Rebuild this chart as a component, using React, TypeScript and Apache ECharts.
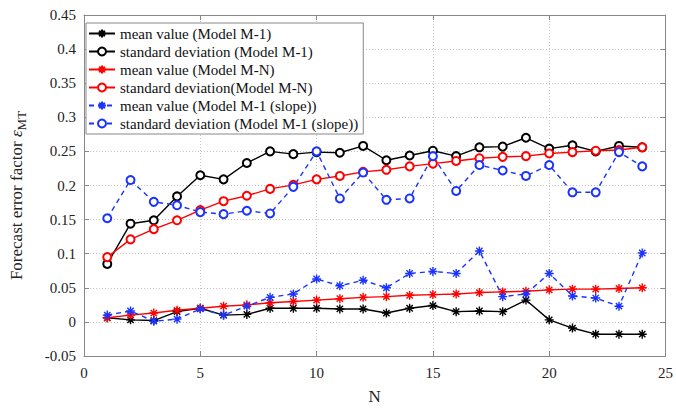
import React, { useEffect, useRef } from "react";
import * as echarts from "echarts";

// Number of measurement points N
const nValues = [1, 2, 3, 4, 5, 6, 7, 8, 9, 10, 11, 12, 13, 14, 15, 16, 17, 18, 19, 20, 21, 22, 23, 24];

// Model M-1
const meanM1 = [0.006, 0.003, 0.002, 0.015, 0.020, 0.010, 0.011, 0.020, 0.020, 0.020, 0.019, 0.019, 0.013, 0.020, 0.024, 0.015, 0.016, 0.015, 0.032, 0.003, -0.009, -0.018, -0.018, -0.018];
const stdM1 = [0.085, 0.144, 0.149, 0.184, 0.215, 0.209, 0.233, 0.250, 0.246, 0.249, 0.248, 0.258, 0.237, 0.244, 0.251, 0.243, 0.256, 0.257, 0.270, 0.254, 0.259, 0.250, 0.258, 0.256];

// Model M-N
const meanMN = [0.006, 0.010, 0.013, 0.017, 0.020, 0.023, 0.025, 0.028, 0.030, 0.032, 0.034, 0.036, 0.037, 0.039, 0.040, 0.041, 0.043, 0.044, 0.045, 0.047, 0.048, 0.048, 0.049, 0.050];
const stdMN = [0.095, 0.121, 0.136, 0.149, 0.164, 0.177, 0.185, 0.195, 0.201, 0.209, 0.214, 0.220, 0.223, 0.228, 0.232, 0.236, 0.240, 0.242, 0.243, 0.247, 0.249, 0.251, 0.252, 0.256];

// Model M-1 (slope)
const meanSlope = [0.010, 0.016, 0.001, 0.004, 0.019, 0.010, 0.023, 0.036, 0.041, 0.063, 0.053, 0.061, 0.050, 0.071, 0.074, 0.071, 0.104, 0.037, 0.041, 0.071, 0.038, 0.035, 0.023, 0.101];
const stdSlope = [0.152, 0.208, 0.176, 0.171, 0.161, 0.158, 0.163, 0.159, 0.198, 0.250, 0.181, 0.219, 0.179, 0.181, 0.243, 0.192, 0.230, 0.222, 0.214, 0.230, 0.190, 0.190, 0.249, 0.228];

const seriesNames = [
  "mean value (Model M-1)",
  "standard deviation (Model M-1)",
  "mean value (Model M-N)",
  "standard deviation(Model M-N)",
  "mean value (Model M-1 (slope))",
  "standard deviation (Model M-1 (slope))",
];

const FONT = "Liberation Serif";
const ASTERISK = "path://M5,0L5,10M0,5L10,5M1.5,1.5L8.5,8.5M1.5,8.5L8.5,1.5";

const pairs = (ys: number[]) => nValues.map((n, i) => [n, ys[i]]);

function makeSeries(name: string, ys: number[], color: string, marker: "star" | "circle", dashed: boolean) {
  const isStar = marker === "star";
  return {
    name,
    type: "line",
    data: pairs(ys),
    symbol: isStar ? ASTERISK : "emptyCircle",
    symbolSize: isStar ? 9 : 8,
    symbolKeepAspect: true,
    showAllSymbol: true,
    lineStyle: { color, width: 1.4, type: dashed ? [5, 4] : "solid" },
    itemStyle: isStar
      ? { color: "rgba(0,0,0,0)", borderColor: color, borderWidth: 1.4 }
      : { color, borderColor: color, borderWidth: 1.3 },
    emphasis: { disabled: true },
  };
}

export default function App() {
  const ref = useRef<HTMLDivElement>(null);

  useEffect(() => {
    if (!ref.current) return;
    const chart = echarts.init(ref.current, undefined, { renderer: "svg" });
    const grid = { left: 82, top: 15, width: 588, height: 347 };
    const dotted = { show: true, lineStyle: { color: "#c4c4c4", type: [1, 2], width: 1 } };
    const tickLabel = { fontFamily: FONT, fontSize: 15, color: "#222" };
    const frameLine = { show: true, onZero: false, lineStyle: { color: "#888", width: 1 } };
    const innerTick = { show: true, inside: true, length: 5, lineStyle: { color: "#888" } };

    chart.setOption({
      animation: false,
      backgroundColor: "#fff",
      grid: { ...grid, show: false },
      legend: {
        orient: "vertical",
        left: 86,
        top: 23,
        padding: [3, 5, 3, 2],
        itemGap: 3,
        itemWidth: 26,
        itemHeight: 10,
        backgroundColor: "#fff",
        borderColor: "#888",
        borderWidth: 1,
        borderRadius: 0,
        textStyle: { fontFamily: FONT, fontSize: 15, color: "#111", lineHeight: 15 },
        data: seriesNames,
      },
      xAxis: [
        {
          type: "value",
          min: 0,
          max: 25,
          interval: 5,
          name: "N",
          nameLocation: "middle",
          nameGap: 32,
          nameTextStyle: { fontFamily: FONT, fontSize: 17, color: "#222" },
          axisLine: frameLine,
          axisTick: innerTick,
          axisLabel: { ...tickLabel, margin: 9 },
          splitLine: dotted,
        },
        {
          type: "value",
          position: "top",
          min: 0,
          max: 25,
          interval: 5,
          axisLine: frameLine,
          axisTick: innerTick,
          axisLabel: { show: false },
          splitLine: { show: false },
        },
      ],
      yAxis: [
        {
          type: "value",
          min: -0.05,
          max: 0.45,
          interval: 0.05,
          name: "Forecast error factor {e|ε}{s|MT}",
          nameLocation: "middle",
          nameGap: 56,
          nameTextStyle: {
            fontFamily: FONT,
            fontSize: 17,
            color: "#222",
            padding: [0, 20, 0, 0],
            rich: {
              e: { fontFamily: FONT, fontSize: 17, fontStyle: "italic", color: "#222" },
              s: { fontFamily: FONT, fontSize: 13, color: "#222", padding: [10, 0, 0, 0] },
            },
          },
          axisLine: frameLine,
          axisTick: innerTick,
          axisLabel: {
            ...tickLabel,
            margin: 8,
            formatter: (v: number) => String(parseFloat(v.toFixed(2))),
          },
          splitLine: dotted,
        },
        {
          type: "value",
          position: "right",
          min: -0.05,
          max: 0.45,
          interval: 0.05,
          axisLine: frameLine,
          axisTick: innerTick,
          axisLabel: { show: false },
          splitLine: { show: false },
        },
      ],
      series: [
        makeSeries(seriesNames[0], meanM1, "#000", "star", false),
        makeSeries(seriesNames[1], stdM1, "#000", "circle", false),
        makeSeries(seriesNames[2], meanMN, "#ff0000", "star", false),
        makeSeries(seriesNames[3], stdMN, "#ff0000", "circle", false),
        makeSeries(seriesNames[4], meanSlope, "#1a33ff", "star", true),
        makeSeries(seriesNames[5], stdSlope, "#1a33ff", "circle", true),
      ],
    });
    return () => chart.dispose();
  }, []);

  return (
    <div
      ref={ref}
      style={{ position: "fixed", left: 0, top: 0, width: 676, height: 410, background: "#fff" }}
    />
  );
}
